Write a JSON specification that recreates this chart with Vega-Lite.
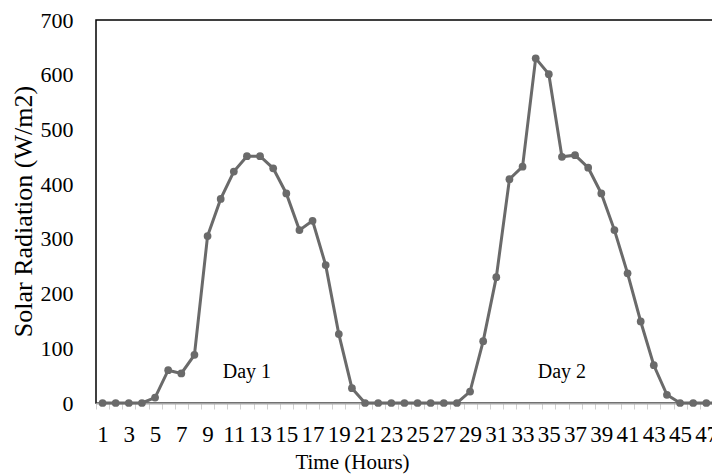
{
  "$schema": "https://vega.github.io/schema/vega-lite/v6.json",
  "autosize": {"type": "none"},
  "padding": {"left": 96, "top": 20, "right": 0, "bottom": 73},
  "width": 630,
  "height": 383,
  "background": "white",
  "config": {
    "view": {"stroke": "#000000", "strokeWidth": 1.5},
    "font": "Liberation Serif",
    "axis": {"titleFont": "Liberation Serif", "labelFont": "Liberation Serif"},
    "text": {"font": "Liberation Serif"}
  },
  "datasets": {
    "series": [
      {"hour": 1, "rad": 0}, {"hour": 2, "rad": 0}, {"hour": 3, "rad": 0}, {"hour": 4, "rad": 0},
      {"hour": 5, "rad": 10}, {"hour": 6, "rad": 60}, {"hour": 7, "rad": 54}, {"hour": 8, "rad": 88},
      {"hour": 9, "rad": 305}, {"hour": 10, "rad": 373}, {"hour": 11, "rad": 423}, {"hour": 12, "rad": 451},
      {"hour": 13, "rad": 451}, {"hour": 14, "rad": 429}, {"hour": 15, "rad": 383}, {"hour": 16, "rad": 316},
      {"hour": 17, "rad": 333}, {"hour": 18, "rad": 252}, {"hour": 19, "rad": 126}, {"hour": 20, "rad": 27},
      {"hour": 21, "rad": 0}, {"hour": 22, "rad": 0}, {"hour": 23, "rad": 0}, {"hour": 24, "rad": 0},
      {"hour": 25, "rad": 0}, {"hour": 26, "rad": 0}, {"hour": 27, "rad": 0}, {"hour": 28, "rad": 0},
      {"hour": 29, "rad": 21}, {"hour": 30, "rad": 113}, {"hour": 31, "rad": 230}, {"hour": 32, "rad": 409},
      {"hour": 33, "rad": 432}, {"hour": 34, "rad": 630}, {"hour": 35, "rad": 601}, {"hour": 36, "rad": 450},
      {"hour": 37, "rad": 453}, {"hour": 38, "rad": 430}, {"hour": 39, "rad": 383}, {"hour": 40, "rad": 316},
      {"hour": 41, "rad": 237}, {"hour": 42, "rad": 149}, {"hour": 43, "rad": 69}, {"hour": 44, "rad": 15},
      {"hour": 45, "rad": 0}, {"hour": 46, "rad": 0}, {"hour": 47, "rad": 0}, {"hour": 48, "rad": 0}
    ],
    "labels": [
      {"hour": 12, "rad": 56, "text": "Day 1"},
      {"hour": 36, "rad": 57, "text": "Day 2"}
    ]
  },
  "encoding": {
    "x": {
      "field": "hour",
      "type": "ordinal",
      "scale": {"type": "band", "paddingInner": 0, "paddingOuter": 0},
      "axis": {
        "title": "Time (Hours)",
        "titleFont": "Liberation Serif",
        "titleFontSize": 21,
        "titleFontWeight": "normal",
        "titleColor": "#000000",
        "titleX": 256,
        "titleY": 65,
        "titleBaseline": "alphabetic",
        "labelAngle": 0,
        "labelFont": "Liberation Serif",
        "labelFontSize": 23,
        "labelColor": "#000000",
        "labelOverlap": false,
        "labelExpr": "datum.value % 2 == 1 ? datum.label : ''",
        "labelPadding": 14,
        "tickBand": "extent",
        "tickSize": 6,
        "tickColor": "#d0d0d0",
        "tickWidth": 1,
        "domainColor": "#a6a6a6",
        "domainWidth": 2,
        "grid": false
      }
    },
    "y": {
      "field": "rad",
      "type": "quantitative",
      "scale": {"domain": [0, 700], "nice": false},
      "axis": {
        "title": "Solar Radiation (W/m2)",
        "titleFont": "Liberation Serif",
        "titleFontSize": 26,
        "titleFontWeight": "normal",
        "titleColor": "#000000",
        "titleX": -73,
        "titleY": 191,
        "titleBaseline": "middle",
        "values": [0, 100, 200, 300, 400, 500, 600, 700],
        "labelFont": "Liberation Serif",
        "labelFontSize": 22,
        "labelColor": "#000000",
        "labelPadding": 23,
        "ticks": false,
        "domain": false,
        "grid": false
      }
    }
  },
  "layer": [
    {
      "data": {"name": "series"},
      "mark": {"type": "line", "color": "#6a6a6a", "strokeWidth": 3, "point": {"filled": true, "size": 60, "color": "#6a6a6a"}}
    },
    {
      "data": {"name": "labels"},
      "mark": {"type": "text", "font": "Liberation Serif", "fontSize": 20, "color": "#000000", "baseline": "middle", "align": "center"},
      "encoding": {"text": {"field": "text"}}
    }
  ]
}
